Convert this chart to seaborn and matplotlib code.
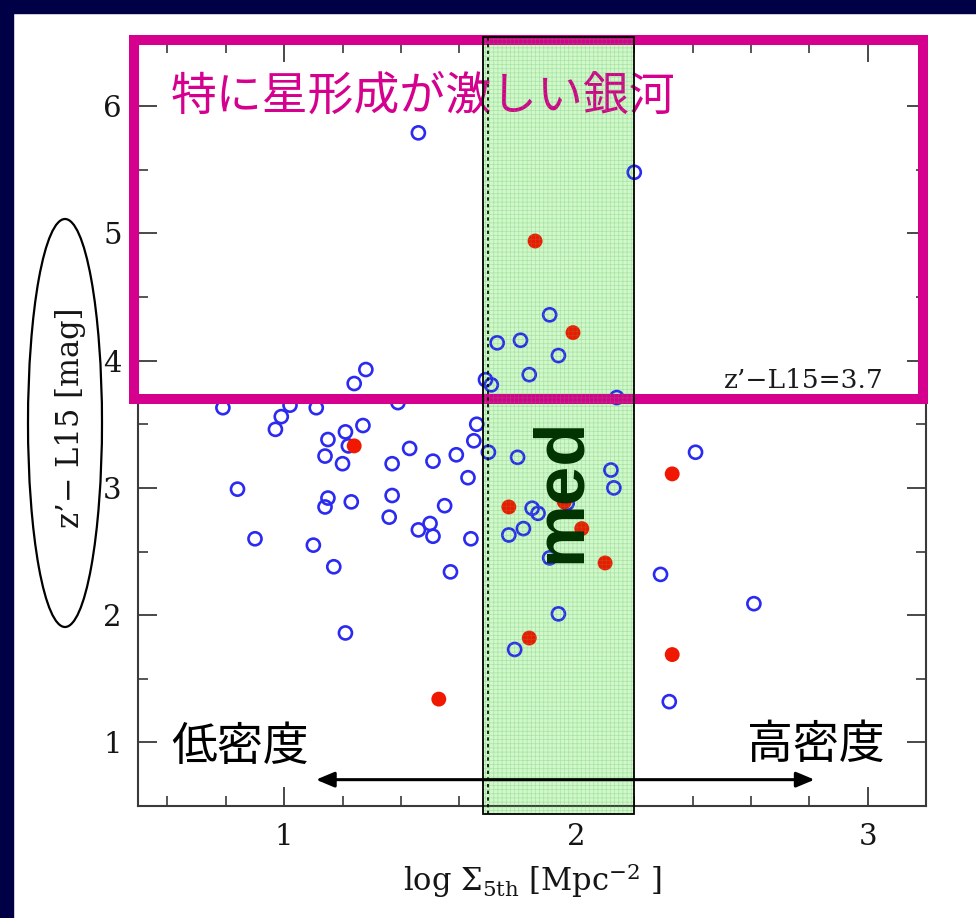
import matplotlib
matplotlib.use("Agg")
import matplotlib.pyplot as plt
import pandas as pd
import seaborn as sns
from matplotlib.patches import Rectangle, Ellipse
from matplotlib.ticker import MultipleLocator

# log surface density of the 5th nearest neighbour and z'-L15 colour
blue_logsig = [1.46, 2.20, 1.91, 1.73, 1.81, 1.94, 1.84, 1.69, 1.71, 1.24,
               1.28, 0.79, 1.02, 1.11, 1.39, 2.14, 0.99, 0.97, 1.15, 1.21,
               1.27, 1.22, 1.14, 1.20, 1.37, 1.43, 1.51, 1.59, 1.66, 1.65,
               1.70, 1.80, 1.63, 0.84, 1.15, 1.14, 1.23, 1.37, 1.36, 1.55,
               1.50, 1.46, 1.51, 1.64, 0.90, 1.10, 1.17, 1.57, 1.21, 1.77,
               1.82, 1.85, 1.87, 1.97, 2.12, 2.13, 1.91, 1.94, 1.79, 2.41,
               2.29, 2.61, 2.32]
blue_color = [5.79, 5.48, 4.36, 4.14, 4.16, 4.04, 3.89, 3.85, 3.81, 3.82,
              3.93, 3.63, 3.65, 3.63, 3.67, 3.71, 3.56, 3.46, 3.38, 3.44,
              3.49, 3.33, 3.25, 3.19, 3.19, 3.31, 3.21, 3.26, 3.50, 3.37,
              3.28, 3.24, 3.08, 2.99, 2.92, 2.85, 2.89, 2.94, 2.77, 2.86,
              2.72, 2.67, 2.62, 2.60, 2.60, 2.55, 2.38, 2.34, 1.86, 2.63,
              2.68, 2.84, 2.80, 2.88, 3.14, 3.00, 2.45, 2.01, 1.73, 3.28,
              2.32, 2.09, 1.32]
red_logsig = [1.86, 1.99, 1.24, 1.77, 1.96, 2.02, 2.10, 2.33, 1.84, 2.33, 1.53]
red_color = [4.94, 4.22, 3.33, 2.85, 2.89, 2.68, 2.41, 3.11, 1.82, 1.69, 1.34]

x_ticks = [1, 2, 3]
y_ticks = [1, 2, 3, 4, 5, 6]
threshold = 3.7
band_lo, band_hi = 1.68, 2.20
median_line = 1.70

title_text = "特に星形成が激しい銀河"
low_text = "低密度"
high_text = "高密度"
band_text = "med"
x_label = r"log $\Sigma_{\rm 5th}$ [Mpc$^{-2}$ ]"
y_label = "z’− L15 [mag]"

MAGENTA = "#d5008d"
CJK = ["Noto Sans CJK JP", "DejaVu Sans"]

sns.set_style("ticks")
plt.rcParams["font.family"] = ["DejaVu Serif"]
plt.rcParams["mathtext.fontset"] = "dejavuserif"
plt.rcParams["hatch.linewidth"] = 0.5

fig = plt.figure(figsize=(9.76, 9.18), dpi=100, facecolor="white")
ax = fig.add_axes([0.1417, 0.122, 0.8071, 0.8317])
ax.set_facecolor("white")

# dark slide border on the left and top
fig.add_artist(Rectangle((0, 0), 13 / 976, 1, transform=fig.transFigure,
                         color="#000046", zorder=0))
fig.add_artist(Rectangle((0, 1 - 13 / 918), 1, 13 / 918, transform=fig.transFigure,
                         color="#000046", zorder=0))

ax.set_xlim(0.5, 3.2)
ax.set_ylim(0.5, 6.5)

# median density band
ymin_ax, ymax_ax = -0.0107, 1.0075
ax.axvspan(band_lo, band_hi, ymin=ymin_ax, ymax=ymax_ax, facecolor="#d0f8ca",
           edgecolor="none", zorder=1, clip_on=False)

blue_df = pd.DataFrame({"logsig": blue_logsig, "color": blue_color})
red_df = pd.DataFrame({"logsig": red_logsig, "color": red_color})
sns.scatterplot(data=blue_df, x="logsig", y="color", ax=ax, marker="o", s=88,
                facecolor="none", edgecolor="#2a2af2", linewidth=1.9, zorder=3)
sns.scatterplot(data=red_df, x="logsig", y="color", ax=ax, marker="o", s=115,
                color="#f01800", edgecolor="none", linewidth=0, zorder=3.5)

# starburst region above the colour cut
ax.add_patch(Rectangle((0.4845, threshold), 3.189 - 0.4845, 6.521 - threshold,
                       fill=False, edgecolor=MAGENTA, linewidth=7.2,
                       joinstyle="miter", clip_on=False, zorder=4))
ax.text(0.612, 6.08, title_text, color=MAGENTA, fontsize=33, family=CJK,
        ha="left", va="center", zorder=4.2)
ax.text(3.055, 3.783, f"z’−L15={threshold}", color="#1a1a1a", fontsize=19,
        ha="right", va="baseline", zorder=4.2)

# textured overlay and outline of the band
ax.axvspan(band_lo, band_hi, ymin=ymin_ax, ymax=ymax_ax, facecolor="none",
           edgecolor=(0.3, 0.7, 0.3, 0.3), hatch="++++", linewidth=0,
           zorder=5, clip_on=False)
ax.axvspan(band_lo, band_hi, ymin=ymin_ax, ymax=ymax_ax, fill=False,
           edgecolor="black", linewidth=1.3, zorder=5.1, clip_on=False)
ax.axvline(median_line, ymin=ymin_ax, ymax=ymax_ax, color="black", lw=1.2,
           ls=(0, (2, 2)), zorder=5.1, clip_on=False)
ax.text(1.952, 2.98, band_text, rotation=90, fontsize=51, fontweight="bold",
        family=["Liberation Sans"], color="#003300", ha="center", va="center",
        zorder=6)

# density direction arrow
ax.annotate("", xy=(2.818, 0.707), xytext=(1.109, 0.707),
            arrowprops=dict(arrowstyle="<|-|>,head_length=0.55,head_width=0.23",
                            color="black", lw=2.2, shrinkA=0, shrinkB=0,
                            mutation_scale=20), zorder=6)
ax.text(0.613, 0.966, low_text, fontsize=33, family=CJK, color="black",
        ha="left", va="center", zorder=6)
ax.text(2.588, 0.982, high_text, fontsize=33, family=CJK, color="black",
        ha="left", va="center", zorder=6)

# axes styling
ax.set_xticks(x_ticks)
ax.set_yticks(y_ticks)
ax.xaxis.set_minor_locator(MultipleLocator(0.2))
ax.yaxis.set_minor_locator(MultipleLocator(0.5))
ax.tick_params(which="both", direction="in", top=True, right=True,
               color="#3a3a3a", labelcolor="#151515")
ax.tick_params(which="major", length=14, width=1.3, labelsize=21, pad=12)
ax.tick_params(which="minor", length=7, width=1.2)
for sp in ax.spines.values():
    sp.set_linewidth(1.5)
    sp.set_color("#3a3a3a")

ax.set_xlabel(x_label, fontsize=22, color="#151515")
ax.xaxis.set_label_coords(0.5, -0.072)
ax.set_ylabel(y_label, fontsize=22, color="#151515")
ax.yaxis.set_label_coords(-0.066, 0.508)

fig.add_artist(Ellipse((65 / 976, 1 - 423 / 918), 74 / 976, 408 / 918,
                       transform=fig.transFigure, fill=False,
                       edgecolor="black", linewidth=1.6))

fig.savefig("out.png", dpi=100, facecolor="white")
